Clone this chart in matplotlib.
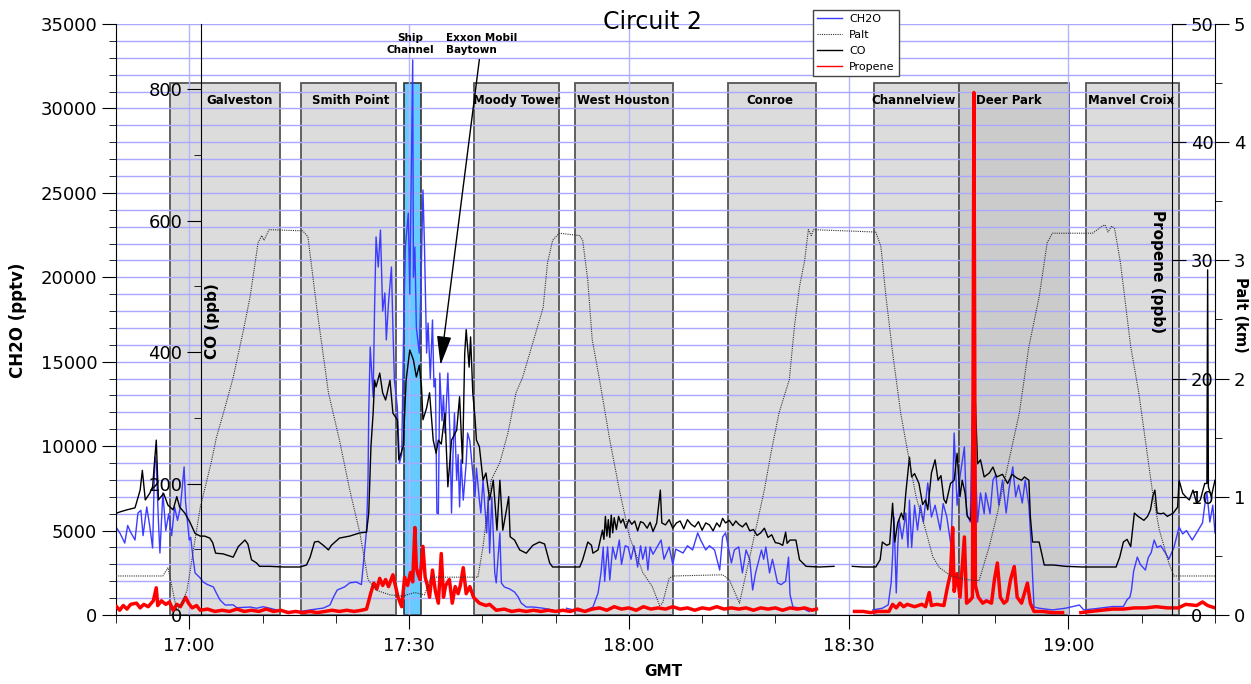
import numpy as np
import matplotlib
matplotlib.use("Agg")
import matplotlib.pyplot as plt
from matplotlib.ticker import MultipleLocator, FuncFormatter
from matplotlib.lines import Line2D

nan = np.nan

# time in minutes after 16:00 GMT
ch2o_t = [50.1, 50.6, 51.2, 51.6, 52.0, 52.6, 53.0, 53.4, 53.7, 54.2, 54.6, 55.0, 55.3, 55.5, 55.8,
          56.0, 56.4, 56.8, 57.2, 57.6, 58.0, 58.4, 58.8, 59.3, 59.5, 59.7, 60.0, 60.2, 60.5, 60.8,
          61.5, 61.9, 62.5, 63.3, 63.7, 64.2, 64.9, 66.0, 66.5, 68.3, 69.2, 70.1, 71.0, 71.9, 73.3,
          75.0, 76.5, 78.3, 79.2, 79.7, 80.2, 80.6, 81.2, 81.9, 82.8, 83.5, 84.2, 84.4, 84.5, 84.7,
          85.1, 85.3, 85.5, 85.8, 86.1, 86.4, 86.7, 86.9, 87.2, 87.6, 87.8, 88.0, 88.4, 88.7, 89.0,
          89.3, 89.5, 89.9, 90.1, 90.3, 90.5, 90.6, 90.8, 91.0, 91.4, 91.6, 91.9, 92.1, 92.4, 92.6,
          92.9, 93.2, 93.4, 93.6, 93.8, 94.0, 94.2, 94.5, 94.7, 94.9, 95.1, 95.3, 95.6, 95.8, 96.0,
          96.2, 96.5, 96.7, 96.9, 97.1, 97.4, 97.8, 98.0, 98.3, 98.7, 99.0, 99.2, 99.6, 99.8, 100.1,
          100.6, 100.8, 101.0, 101.3, 101.7, 101.9, 102.4, 102.6, 103.0, 103.7, 104.4, 104.9, 105.3,
          106.0, 107.0, 108.3, 109.6, 110.3, 111.5, 112.4, 113.7, 115.1, 115.8, 116.2, 116.5, 116.7,
          116.9, 117.1, 117.4, 117.8, 118.2, 118.7, 119.0, 119.5, 119.9, 120.3, 120.7, 121.2, 121.6,
          121.9, 122.3, 122.6, 122.9, 123.3, 124.4, 124.8, 125.5, 126.0, 126.4, 127.4, 128.0, 128.7,
          129.4, 129.8, 130.5, 131.0, 131.7, 132.4, 132.8, 133.2, 134.0, 134.4, 135.0, 135.5, 136.0,
          136.5, 136.9, 137.3, 138.1, 138.4, 138.7, 139.2, 139.6, 140.3, 140.8, 141.4, 141.8, 142.0,
          142.4, 143.7, 144.6, 145.0, 153.3, 154.6, 155.4, 155.8, 156.0, 156.2, 156.5, 156.7, 156.9,
          157.3, 157.8, 158.1, 158.3, 158.6, 159.0, 159.4, 159.8, 160.2, 160.8, 161.3, 161.8, 162.5,
          162.9, 163.4, 164.0, 164.4, 164.8, 165.2, 165.8, 166.1, 166.6, 166.9, 167.2, 167.6, 168.0,
          168.5, 168.7, 169.3, 169.7, 170.1, 170.5, 171.0, 171.5, 171.9, 172.4, 172.8, 173.2, 173.7,
          174.1, 174.6, 174.9, 175.3, 176.0, 177.8, 179.6, 181.5, 182.1, 184.2, 186.0, 187.5, 188.0,
          188.4, 188.6, 188.9, 189.4, 189.8, 190.2, 190.5, 190.9, 191.3, 191.7, 192.1, 192.6, 193.2,
          193.7, 194.4, 195.1, 195.6, 196.1, 196.9, 197.4, 198.3, 198.6, 198.9, 199.3, 199.7, 200.0]
ch2o = [5150, 4800, 4260, 5300, 4900, 4440, 6040, 6200, 4700, 6400, 5300, 3970, 9360, 9000, 5500,
        3670, 7230, 5000, 6000, 4700, 6400, 5600, 6400, 8770, 6700, 5800, 4440, 4600, 3430, 2490,
        2190, 1950, 1800, 1660, 1300, 890, 590, 600, 430, 470, 400, 490, 400, 300, 200,
        200, 300, 410, 590, 1070, 1480, 1550, 1660, 1900, 1950, 1800, 5030, 7990, 12000, 15870,
        12910, 18240, 22390, 20610, 22800, 18000, 19070, 16290, 18500, 20610, 17000, 13920, 12320, 9000, 9500,
        17880, 21790, 23800, 19000, 25760, 32870, 20000, 21790, 17000, 15510, 19000, 25170, 22000, 15510, 17290,
        14000, 17470, 13500, 14000, 6040, 6000, 14330, 11500, 13000, 10780, 12500, 14330, 10500, 6040, 9500,
        11960, 7990, 9500, 6400, 9200, 6800, 9000, 10780, 10300, 8410, 7000, 8700, 6810, 6040, 7990,
        4860, 7000, 3670, 7000, 2490, 1900, 4860, 1900, 1660, 1550, 1360, 1070, 710,
        470, 470, 400, 300, nan, 400, 300, 200, 470, 1300, 2500, 4030, 2000,
        3080, 4030, 2070, 4030, 3300, 4440, 3000, 4100, 4030, 3300, 4100, 2840, 4100,
        3300, 4030, 2660, 4030, 3600, 4440, 3300, 4030, 3000, 3900, 3670, 4100, 3850,
        4860, 4440, 3850, 4100, 3850, 2660, 4620, 4860, 3080, 3850, 4030, 2490, 3850,
        3300, 1480, 2490, 3850, 3300, 4030, 2490, 3300, 1900, 1800, 2000, 3430, 1200,
        470, 400, 200, nan, 300, 400, 600, 1900, 3500, 5800, 1300, 4000, 5630,
        4500, 6040, 4000, 6810, 4000, 6500, 5030, 6500, 5500, 7820, 5800, 6500, 5030,
        6600, 5800, 4030, 10780, 6500, 8200, 9950, 6000, 5500, 12550, 10000, 5500, 7230,
        6000, 7230, 6000, 7990, 8300, 6500, 7990, 6040, 7500, 8770, 7000, 7700, 6630,
        7990, 6500, 4260, 470, 400, 300, 400, 590, 300, 400, 500, 500, 900,
        1070, 1480, 2600, 3430, 3000, 2800, 2660, 3400, 3700, 4440, 4000, 4100, 3700,
        3300, 4000, 5210, 4800, 5000, 4440, 4800, 5450, 6500, 7230, 5500, 6500, 4860]

co_t = [50.1, 50.6, 51.5, 52.6, 53.3, 53.6, 54.0, 54.6, 55.0, 55.5, 55.8, 56.5, 57.1, 57.8, 58.3,
        58.7, 59.4, 60.1, 60.8, 61.5, 62.1, 62.8, 63.2, 63.6, 64.6, 66.0, 66.7, 67.6, 68.0, 68.5,
        69.2, 69.6, 71.0, 72.9, 75.1, 76.0, 76.5, 77.1, 77.6, 78.3, 79.0, 79.4, 80.5, 81.9, 83.3,
        84.2, 84.5, 84.8, 85.1, 85.3, 85.5, 86.0, 86.4, 86.8, 87.4, 87.8, 88.4, 88.6, 89.2, 89.6,
        90.1, 90.6, 91.0, 91.4, 91.7, 91.9, 92.4, 92.8, 93.3, 93.7, 94.0, 94.4, 94.9, 95.3, 95.8,
        96.5, 96.9, 97.3, 97.6, 97.8, 98.2, 98.4, 98.7, 99.0, 99.2, 99.6, 100.1, 100.5, 101.0, 101.5,
        102.0, 102.4, 102.8, 103.3, 103.6, 103.8, 104.4, 105.1, 106.0, 106.9, 107.8, 108.5, 109.2, 109.6, 113.3,
        113.7, 114.4, 114.9, 115.1, 115.8, 116.4, 116.6, 116.8, 117.0, 117.2, 117.4, 117.6, 117.8, 118.0, 118.3,
        118.6, 118.9, 119.2, 119.6, 120.0, 120.4, 120.8, 121.2, 121.6, 122.0, 122.5, 122.9, 123.3, 123.8, 124.3,
        124.5, 125.0, 125.5, 126.0, 126.5, 127.0, 127.5, 128.0, 128.5, 129.0, 129.5, 130.0, 130.5, 131.0, 131.5,
        132.0, 132.4, 132.8, 133.2, 133.7, 134.2, 134.6, 135.0, 135.5, 136.0, 136.5, 137.0, 137.5, 138.0, 138.5,
        139.0, 139.5, 140.0, 140.5, 141.0, 141.4, 141.6, 142.0, 142.8, 143.3, 144.2, 146.0, 148.0, 150.0, 150.5,
        152.0, 153.7, 154.3, 154.6, 155.2, 155.6, 156.0, 156.3, 156.7, 157.2, 157.5, 157.8, 158.3, 158.6, 159.0,
        159.6, 160.1, 160.5, 160.8, 161.3, 161.8, 162.2, 162.6, 163.0, 163.3, 163.9, 164.4, 164.8, 165.2, 165.5,
        165.9, 166.2, 166.7, 167.3, 167.6, 168.0, 168.5, 169.2, 169.7, 170.2, 171.0, 171.7, 172.3, 173.0, 173.6,
        174.0, 174.6, 174.8, 175.1, 176.0, 176.7, 178.0, 179.6, 181.9, 184.2, 186.5, 187.0, 187.5, 188.0, 188.5,
        189.0, 189.5, 190.3, 190.8, 191.2, 191.5, 191.8, 192.1, 192.6, 193.0, 193.5, 194.3, 194.9, 195.1, 195.6,
        196.0, 196.5, 197.0, 197.5, 198.0, 198.6, 198.9, 199.0, 199.1, 199.5, 200.0]
co = [155, 157, 160, 163, 190, 220, 175, 185, 195, 266, 175, 185, 167, 160, 180,
      164, 155, 141, 124, 120, 120, 117, 110, 94, 93, 88, 104, 114, 108, 84,
      79, 74, 74, 73, 73, 76, 88, 111, 112, 106, 99, 106, 117, 120, 125,
      126, 155, 256, 307, 357, 347, 368, 338, 327, 357, 307, 297, 236, 256, 357,
      403, 388, 362, 380, 347, 297, 315, 338, 266, 246, 266, 260, 307, 195, 266,
      281, 332, 231, 398, 434, 377, 423, 338, 300, 266, 256, 205, 216, 175, 205,
      129, 205, 129, 160, 180, 119, 114, 99, 94, 106, 111, 108, 79, 73, 73,
      84, 111, 106, 94, 99, 129, 115, 150, 120, 145, 118, 152, 125, 148, 130,
      150, 140, 146, 132, 145, 138, 143, 128, 142, 140, 132, 141, 127, 140, 190,
      140, 137, 145, 132, 140, 143, 131, 145, 138, 134, 142, 129, 140, 137, 128,
      140, 134, 147, 140, 144, 136, 143, 138, 134, 140, 128, 130, 121, 125, 132,
      118, 122, 110, 109, 106, 126, 109, 114, 114, 84, 74, 73, 74, nan, 74,
      73, 73, 84, 111, 106, 108, 170, 111, 140, 155, 145, 185, 240, 210, 215,
      200, 168, 175, 160, 216, 236, 205, 212, 176, 170, 200, 205, 246, 180, 205,
      185, 150, 144, 322, 230, 236, 210, 216, 225, 210, 214, 200, 214, 208, 205,
      210, 205, 150, 111, 111, 76, 76, 74, 73, 73, 73, 88, 111, 115, 104,
      155, 150, 144, 150, 160, 180, 190, 155, 154, 155, 150, 155, 164, 205, 185,
      180, 175, 190, 170, 175, 200, 200, 525, 195, 180, 205]

propene_t = [50.1, 50.5, 51.0, 51.5, 52.0, 52.8, 53.3, 53.8, 54.4, 55.1, 55.5, 55.7, 56.2, 56.8, 57.3,
             57.8, 58.3, 58.8, 59.5, 59.9, 60.4, 61.0, 61.5, 62.5, 63.5, 64.5, 65.5, 66.5, 67.5, 68.5,
             69.5, 70.5, 71.5, 72.5, 73.5, 74.5, 75.5, 76.5, 77.5, 78.5, 79.5, 80.5, 81.5, 82.5, 83.5,
             84.2, 84.8, 85.2, 85.6, 86.0, 86.4, 86.8, 87.2, 87.8, 88.1, 88.5, 89.0, 89.4, 89.8, 90.2,
             90.5, 90.8, 91.0, 91.2, 91.5, 91.9, 92.2, 92.5, 92.8, 93.2, 93.6, 94.0, 94.4, 94.7, 95.0,
             95.5, 95.9, 96.3, 96.7, 97.0, 97.4, 97.8, 98.3, 98.8, 99.6, 100.5, 101.0, 101.9, 103.0, 104.0,
             105.0, 106.0, 107.0, 108.0, 109.0, 110.0, 111.0, 112.0, 113.0, 114.0, 115.0, 116.0, 117.0, 118.0, 119.0,
             120.0, 121.0, 122.0, 123.0, 124.0, 125.0, 126.0, 127.0, 128.0, 129.0, 130.0, 131.0, 132.0, 133.0, 134.0,
             135.0, 136.0, 137.0, 138.0, 139.0, 140.0, 141.0, 142.0, 143.0, 144.0, 145.0, 145.6, 146.0, 150.8, 152.0,
             153.0, 154.0, 155.5, 156.0, 156.5, 157.0, 157.5, 158.0, 159.0, 160.0, 160.5, 161.0, 161.3, 162.0, 163.0,
             163.5, 163.9, 164.2, 164.4, 164.8, 165.2, 165.8, 166.1, 166.5, 166.9, 167.1, 167.3, 167.7, 168.3, 168.8,
             169.5, 169.9, 170.3, 170.7, 171.2, 171.6, 172.1, 172.6, 173.0, 173.6, 174.4, 174.8, 175.3, 176.5, 177.8,
             179.2, 179.4, 181.7, 183.0, 184.5, 186.0, 187.5, 189.0, 190.5, 192.0, 193.5, 195.0, 196.0, 197.5, 198.3,
             199.0, 200.0]
propene = [0.7, 0.4, 0.8, 0.5, 0.9, 1.0, 0.6, 0.9, 0.7, 1.2, 2.3, 0.8, 1.2, 0.9, 1.1,
           0.4, 0.9, 0.7, 1.5, 1.0, 0.6, 0.8, 0.4, 0.5, 0.3, 0.4, 0.3, 0.5, 0.3, 0.4,
           0.3, 0.5, 0.3, 0.4, 0.2, 0.3, 0.2, 0.3, 0.2, 0.3, 0.4, 0.3, 0.4, 0.3, 0.4,
           0.5, 1.9, 2.7, 2.2, 3.1, 2.5, 3.0, 2.4, 3.4, 2.6, 1.5, 0.7, 3.2, 2.5, 3.6,
           2.8, 7.4, 4.0, 3.5, 3.0, 5.8, 3.2, 2.5, 1.5, 3.8, 2.0, 1.0, 5.2, 1.5, 2.5,
           3.0, 1.0, 2.4, 1.8, 2.5, 4.0, 1.8, 2.4, 1.5, 1.0, 0.8, 0.9, 0.4, 0.5, 0.3,
           0.4, 0.3, 0.4, 0.3, 0.4, 0.3, 0.4, 0.3, 0.5, 0.3, 0.5, 0.6, 0.4, 0.7, 0.5,
           0.6, 0.4, 0.7, 0.5, 0.6, 0.5, 0.7, 0.5, 0.6, 0.4, 0.6, 0.5, 0.7, 0.5, 0.6,
           0.5, 0.6, 0.4, 0.6, 0.5, 0.6, 0.4, 0.6, 0.5, 0.6, 0.4, 0.5, nan, 0.3, 0.3,
           0.2, 0.3, 0.3, 0.9, 0.6, 1.0, 0.7, 0.9, 0.7, 0.9, 0.7, 1.9, 0.8, 0.9, 0.8,
           2.4, 3.5, 7.4, 2.0, 3.5, 1.5, 6.6, 1.0, 1.2, 1.5, 44.2, 2.5, 1.5, 1.0, 1.2,
           1.0, 3.0, 4.4, 1.5, 1.0, 1.2, 3.0, 4.1, 1.5, 1.0, 2.7, 1.0, 0.3, 0.3, 0.2,
           0.2, nan, 0.2, 0.3, 0.4, 0.5, 0.5, 0.6, 0.6, 0.7, 0.6, 0.6, 0.9, 0.8, 1.1,
           0.8, 0.6]

palt_t = [50.0, 56.4, 57.1, 58.3, 59.0, 59.7, 61.5, 63.0, 63.7, 64.9, 66.0, 67.4, 68.3, 69.4, 69.9,
          70.2, 70.9, 75.5, 76.2, 77.4, 79.0, 80.5, 81.9, 83.3, 84.4, 85.5, 87.4, 89.1, 90.8, 92.1,
          93.0, 99.4, 100.1, 101.2, 102.4, 103.5, 104.6, 105.5, 106.5, 107.4, 108.3, 108.9, 109.6, 110.5, 113.3,
          113.7, 114.4, 115.0, 116.0, 117.4, 118.7, 120.1, 121.9, 123.2, 124.2, 124.6, 125.5, 126.0, 132.8, 133.7,
          135.1, 136.5, 138.5, 139.4, 140.5, 141.9, 142.6, 143.3, 144.0, 144.5, 144.9, 145.2, 153.7, 154.4, 155.1,
          156.0, 157.1, 158.0, 159.2, 160.5, 161.5, 162.4, 164.0, 166.0, 167.8, 169.2, 170.3, 171.5, 173.3, 174.6,
          176.0, 177.1, 177.8, 183.3, 184.6, 185.0, 185.4, 185.9, 186.3, 187.1, 188.5, 189.6, 191.5, 192.4, 193.7,
          194.4, 200.0]
palt = [0.33, 0.33, 0.40, 0.04, 0.10, 0.21, 0.91, 1.29, 1.50, 1.76, 2.01, 2.41, 2.69, 3.15, 3.21,
        3.17, 3.26, 3.25, 3.20, 2.60, 1.88, 1.48, 1.06, 0.69, 0.30, 0.21, 0.17, 0.16, 0.19, 0.17,
        0.32, 0.32, 0.58, 1.14, 1.29, 1.54, 1.88, 2.01, 2.22, 2.41, 2.60, 2.98, 3.17, 3.23, 3.21,
        3.17, 2.83, 2.33, 1.99, 1.48, 1.06, 0.66, 0.36, 0.24, 0.08, 0.10, 0.31, 0.33, 0.34, 0.30,
        0.10, 0.49, 1.06, 1.37, 1.71, 1.99, 2.44, 2.78, 3.00, 3.26, 3.21, 3.26, 3.24, 3.12, 2.69,
        2.22, 1.71, 1.40, 1.00, 0.72, 0.49, 0.40, 0.33, 0.30, 0.29, 0.58, 0.86, 1.20, 1.71, 2.27,
        2.69, 3.15, 3.23, 3.23, 3.29, 3.30, 3.24, 3.29, 3.27, 2.98, 2.27, 1.88, 1.03, 0.72, 0.44,
        0.33, 0.33]

# sampling sites (start, end in minutes after 16:00)
sites = ["Galveston", "Smith Point", "Moody Tower", "West Houston", "Conroe",
         "Channelview", "Deer Park", "Manvel Croix"]
site_start = [57.4, 75.2, 98.8, 112.6, 133.6, 153.4, 165.0, 182.4]
site_end = [72.4, 88.2, 110.5, 126.0, 145.5, 165.0, 180.1, 195.1]
site_label_x = [66.9, 82.0, 104.7, 119.3, 139.2, 158.8, 171.8, 188.6]
ship_channel = (89.3, 91.6)

fig = plt.figure(figsize=(12.51, 6.84), dpi=100)
ax = fig.add_axes([0.0927, 0.1009, 0.8785, 0.864])
ax.set_axisbelow("line")

# site boxes
for name, s, e, lx in zip(sites, site_start, site_end, site_label_x):
    fc = "#cbcbcb" if name == "Deer Park" else "#dcdcdc"
    ax.axvspan(s, e, ymin=0, ymax=0.9, facecolor=fc, edgecolor="#555555", lw=1.3, zorder=1)
    ax.text(lx, 0.87, name, transform=ax.get_xaxis_transform(), ha="center", va="center",
            fontsize=8.5, fontweight="bold", zorder=3)
ax.axvspan(ship_channel[0], ship_channel[1], ymin=0, ymax=0.9, facecolor="#66ccff",
           edgecolor="#333333", lw=1.2, zorder=1)

# CH2O
ax.plot(ch2o_t, ch2o, color="#3c3cff", lw=1.0, zorder=2)
ax.set_xlim(50, 200)
ax.set_ylim(0, 35000)
ax.yaxis.set_major_locator(MultipleLocator(5000))
ax.yaxis.set_minor_locator(MultipleLocator(1000))
ax.xaxis.set_major_locator(MultipleLocator(30))
ax.xaxis.set_minor_locator(MultipleLocator(10))
ax.xaxis.set_major_formatter(FuncFormatter(lambda m, p: f"{16 + int(m) // 60}:{int(m) % 60:02d}"))
ax.grid(which="both", axis="y", color="#a8a8ff", lw=1)
ax.grid(which="major", axis="x", color="#b4b4ff", lw=1)
ax.tick_params(axis="y", which="major", direction="out", length=10, labelsize=13)
ax.tick_params(axis="y", which="minor", direction="out", length=5)
ax.tick_params(axis="x", which="major", direction="out", length=10, labelsize=13, pad=6)
ax.tick_params(axis="x", which="minor", direction="out", length=6)
ax.spines["top"].set_visible(False)
ax.spines["right"].set_visible(False)

# CO axis
ax_co = ax.twinx()
ax_co.plot(co_t, co, color="black", lw=1.0)
ax_co.set_ylim(0, 899)
ax_co.spines["left"].set_visible(True)
ax_co.spines["left"].set_position(("axes", 0.0773))
for s in ["right", "top", "bottom"]:
    ax_co.spines[s].set_visible(False)
ax_co.yaxis.set_ticks_position("left")
ax_co.yaxis.set_major_locator(MultipleLocator(200))
ax_co.yaxis.set_minor_locator(MultipleLocator(100))
ax_co.tick_params(axis="y", which="major", direction="out", length=10, labelsize=13)
ax_co.tick_params(axis="y", which="minor", direction="out", length=5)

# Propene axis
ax_p = ax.twinx()
ax_p.plot(propene_t, propene, color="red", lw=2.5)
ax_p.set_ylim(0, 50)
ax_p.spines["right"].set_position(("axes", 0.9609))
for s in ["left", "top", "bottom"]:
    ax_p.spines[s].set_visible(False)
ax_p.yaxis.set_major_locator(MultipleLocator(10))
ax_p.tick_params(axis="y", which="major", direction="out", length=10, labelsize=13)

# Palt axis
ax_palt = ax.twinx()
ax_palt.plot(palt_t, palt, color="#333333", lw=0.8, ls=(0, (1, 1)))
ax_palt.set_ylim(0, 5)
for s in ["left", "top", "bottom"]:
    ax_palt.spines[s].set_visible(False)
ax_palt.yaxis.set_major_locator(MultipleLocator(1))
ax_palt.yaxis.set_minor_locator(MultipleLocator(0.5))
ax_palt.tick_params(axis="y", which="major", direction="out", length=10, labelsize=13)
ax_palt.tick_params(axis="y", which="minor", direction="out", length=5)

# annotations
ax.text(90.2, 33800, "Ship\nChannel", ha="center", va="center", fontsize=7.5,
        fontweight="bold", linespacing=1.3)
ax.text(95.0, 33800, "Exxon Mobil\nBaytown", ha="left", va="center", fontsize=7.5,
        fontweight="bold", linespacing=1.3)
ax.annotate("", xy=(94.3, 14800), xytext=(99.6, 32900),
            arrowprops=dict(arrowstyle="-|>,head_length=1.2,head_width=0.3", color="black",
                            lw=1, mutation_scale=15, shrinkA=0, shrinkB=0))

# labels
fig.text(663 / 1251, 1 - 672 / 684, "GMT", ha="center", va="center", fontsize=11, fontweight="bold")
fig.text(18 / 1251, 1 - 320 / 684, "CH2O (pptv)", rotation=90, ha="center", va="center",
         fontsize=12, fontweight="bold")
fig.text(213 / 1251, 1 - 321 / 684, "CO (ppb)", rotation=90, ha="center", va="center",
         fontsize=11, fontweight="bold")
fig.text(1158 / 1251, 1 - 272 / 684, "Propene (ppb)", rotation=270, ha="center", va="center",
         fontsize=11, fontweight="bold")
fig.text(1241 / 1251, 1 - 315 / 684, "Palt (km)", rotation=270, ha="center", va="center",
         fontsize=10.5, fontweight="bold")
fig.text(652 / 1251, 1 - 22 / 684, "Circuit 2", ha="center", va="center", fontsize=17)

handles = [Line2D([], [], color="#3c3cff", lw=1),
           Line2D([], [], color="#333333", lw=0.8, ls=(0, (1, 1))),
           Line2D([], [], color="black", lw=1),
           Line2D([], [], color="red", lw=1)]
fig.legend(handles, ["CH2O", "Palt", "CO", "Propene"], loc="upper left",
           bbox_to_anchor=(813 / 1251, 1 - 10 / 684), fontsize=8, frameon=True, fancybox=False,
           edgecolor="#444444", framealpha=1, borderpad=0.35, labelspacing=0.55,
           handlelength=2.3, handletextpad=0.6, borderaxespad=0)

fig.savefig("out.png", dpi=100)
